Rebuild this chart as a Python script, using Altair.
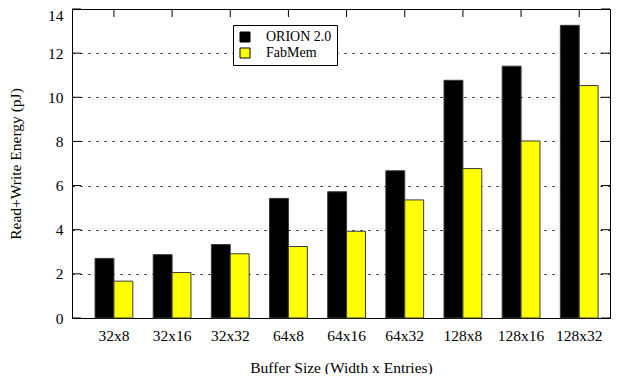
import altair as alt
import pandas as pd

categories = ["32x8", "32x16", "32x32", "64x8", "64x16", "64x32", "128x8", "128x16", "128x32"]
orion = [2.70, 2.87, 3.33, 5.42, 5.72, 6.67, 10.77, 11.41, 13.26]
fabmem = [1.67, 2.06, 2.91, 3.24, 3.93, 5.35, 6.77, 8.02, 10.53]
series = ["ORION 2.0", "FabMem"]
colors = ["#000000", "#ffff00"]
y_ticks = [0, 2, 4, 6, 8, 10, 12, 14]

rows = []
for c, a, b in zip(categories, orion, fabmem):
    rows.append({"size": c, "series": series[0], "energy": a})
    rows.append({"size": c, "series": series[1], "energy": b})
df = pd.DataFrame(rows)
tick_df = pd.DataFrame({"v": y_ticks})
cat_df = pd.DataFrame({"size": categories})

W, H = 538, 309
FONT = "Liberation Serif"
NBSP = "\u00a0"

xscale = alt.Scale(domain=categories, paddingInner=0.35, paddingOuter=0.30, align=0.66)
yscale = alt.Scale(domain=[0, 14], nice=False)

xaxis = alt.Axis(title="Buffer Size (Width x Entries)", ticks=False, tickSize=0, grid=False,
                 domain=True, domainColor="black", labelAngle=0,
                 labelBaseline="alphabetic", labelPadding=22,
                 labelFont=FONT, labelFontSize=15.5, labelColor="black",
                 titleFont=FONT, titleFontSize=15.5, titleFontWeight="normal",
                 titleColor="black", titleBaseline="alphabetic", titleY=54)
yaxis = alt.Axis(values=y_ticks, title="Read+Write Energy (pJ)", grid=True,
                 gridDash=[2, 6], gridColor="black", gridWidth=1,
                 ticks=False, tickSize=0, domain=True, domainColor="black",
                 labelFont=FONT, labelFontSize=15.5, labelColor="black",
                 labelOffset={"condition": {"test": "datum.value === 14", "value": 6}, "value": 0},
                 labelPadding=9, titleFont=FONT, titleFontSize=15.5,
                 titleFontWeight="normal", titleColor="black",
                 titleBaseline="alphabetic", titleX=-52)

bars = alt.Chart(df).mark_bar(stroke="#3a3a3a", strokeWidth=1).encode(
    x=alt.X("size:N", scale=xscale, sort=categories, axis=xaxis),
    xOffset=alt.XOffset("series:N", sort=series, scale=alt.Scale(domain=series)),
    y=alt.Y("energy:Q", scale=yscale, axis=yaxis),
    color=alt.Color("series:N", scale=alt.Scale(domain=series, range=colors),
                    legend=alt.Legend(title=None, orient="none", legendX=161, legendY=16,
                                      symbolType="square", symbolSize=100,
                                      symbolStrokeColor="black", symbolStrokeWidth=1,
                                      labelFont=FONT, labelFontSize=14, labelColor="black",
                                      labelExpr="datum.label + '" + NBSP * 3 + "'",
                                      labelOffset=14, padding=5, rowPadding=2,
                                      strokeColor="black", fillColor="white")),
)

left_ticks = alt.Chart(tick_df).mark_rule(color="black", strokeWidth=1).encode(
    y=alt.Y("v:Q", scale=yscale, axis=yaxis), x=alt.value(0), x2=alt.value(9))
right_ticks = alt.Chart(tick_df).mark_rule(color="black", strokeWidth=1).encode(
    y=alt.Y("v:Q", scale=yscale, axis=yaxis), x=alt.value(W - 9), x2=alt.value(W))
top_ticks = alt.Chart(cat_df).mark_rule(color="black", strokeWidth=1).encode(
    x=alt.X("size:N", scale=xscale, sort=categories, axis=xaxis),
    y=alt.value(0), y2=alt.value(8))

chart = alt.layer(bars, left_ticks, right_ticks, top_ticks).properties(
    width=W, height=H,
    autosize=alt.AutoSizeParams(type="none"),
    padding={"left": 64, "top": 1, "right": 1, "bottom": 56},
).configure(font=FONT).configure_view(
    stroke="black", strokeWidth=1
).configure_axis(
    labelFont=FONT, titleFont=FONT, labelColor="black", titleColor="black"
).configure_legend(labelFont=FONT)

chart.save("out.html", embed_options={"renderer": "svg", "actions": False})
